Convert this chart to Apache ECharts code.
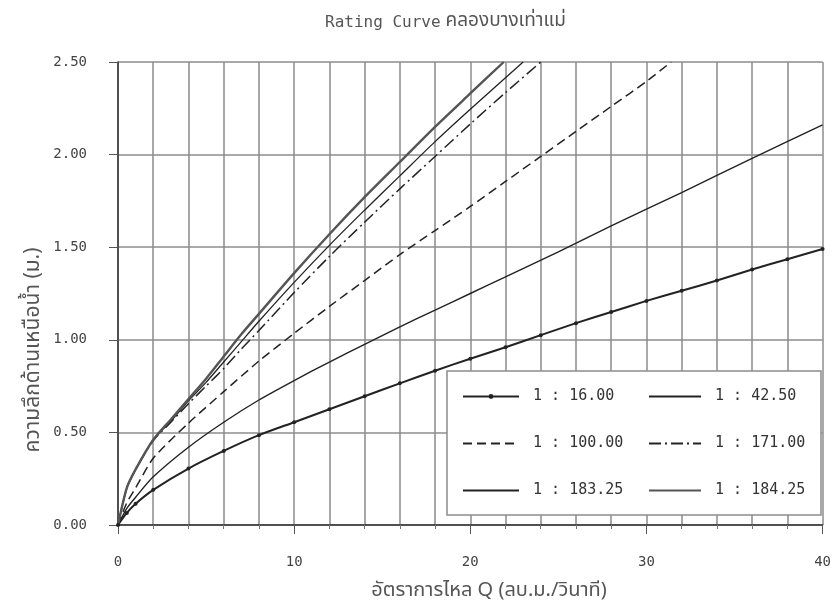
<!DOCTYPE html>
<html>
<head>
<meta charset="utf-8">
<script src="https://cdn.jsdelivr.net/npm/echarts@6/dist/echarts.min.js"></script>
<style>
  html, body { margin: 0; padding: 0; background: #fff; }
  #chart { width: 834px; height: 611px; }
</style>
</head>
<body>
<div id="chart"></div>
<script>
// Stage (m) against discharge Q (m³/s) for each bed-slope ratio
const q16  = [0, 0.5, 1, 2, 4, 6, 8, 10, 12, 14, 16, 18, 20, 22, 24, 26, 28, 30, 32, 34, 36, 38, 40];
const h16  = [0, 0.065, 0.115, 0.19, 0.305, 0.40, 0.485, 0.555, 0.625, 0.695, 0.765, 0.833, 0.898, 0.96, 1.025, 1.09, 1.15, 1.21, 1.265, 1.32, 1.38, 1.435, 1.49];

const q42  = [0, 0.5, 1, 2, 4, 6, 8, 10, 12, 14, 16, 18, 20, 22, 25, 28, 32, 36, 40];
const h42  = [0, 0.09, 0.15, 0.26, 0.42, 0.555, 0.675, 0.78, 0.88, 0.975, 1.07, 1.16, 1.25, 1.34, 1.475, 1.615, 1.795, 1.98, 2.16];

const q100 = [0, 0.5, 1, 2, 4, 6, 8, 10, 12, 14, 16, 18, 20, 22, 24, 26, 28, 30, 31.4];
const h100 = [0, 0.12, 0.20, 0.36, 0.55, 0.72, 0.885, 1.035, 1.18, 1.32, 1.46, 1.59, 1.72, 1.855, 1.99, 2.125, 2.26, 2.395, 2.5];

const q171 = [0, 0.5, 1, 2, 3, 4, 5, 6, 7, 8, 10, 12, 14, 16, 18, 20, 22, 24];
const h171 = [0, 0.2, 0.3, 0.455, 0.555, 0.655, 0.75, 0.845, 0.95, 1.05, 1.255, 1.45, 1.635, 1.815, 1.99, 2.165, 2.335, 2.5];

const q183 = [0, 0.5, 1, 2, 3, 4, 5, 6, 7, 8, 10, 12, 14, 16, 18, 20, 22, 23];
const h183 = [0, 0.2, 0.3, 0.46, 0.56, 0.67, 0.77, 0.88, 0.99, 1.10, 1.31, 1.51, 1.70, 1.885, 2.07, 2.245, 2.415, 2.5];

const q184 = [0, 0.5, 1, 2, 3, 4, 5, 6, 7, 8, 10, 12, 14, 16, 18, 20, 21.9];
const h184 = [0, 0.2, 0.3, 0.46, 0.57, 0.68, 0.79, 0.91, 1.03, 1.14, 1.36, 1.57, 1.77, 1.96, 2.15, 2.33, 2.5];

const seriesNames = ['1 : 16.00', '1 : 42.50', '1 : 100.00', '1 : 171.00', '1 : 183.25', '1 : 184.25'];
const yTicks = [0, 0.5, 1, 1.5, 2, 2.5];

const zip = (qs, hs) => qs.map((q, i) => [q, hs[i]]);

const MONO = "'DejaVu Sans Mono', 'Liberation Mono', monospace";
const THAI = "'Noto Sans Thai', 'Noto Sans', 'DejaVu Sans', sans-serif";
const INK = '#222';

const chart = echarts.init(document.getElementById('chart'), null, { renderer: 'canvas' });

function lineSeries(name, data, style, extra) {
  return Object.assign({
    name: name,
    type: 'line',
    data: data,
    smooth: 0.25,
    symbol: 'none',
    lineStyle: Object.assign({ color: INK, width: 1.5 }, style),
    itemStyle: { color: INK },
    emphasis: { disabled: true },
    animation: false,
    z: 3
  }, extra || {});
}

// legend entries: the line key only; the 1 : 16.00 key keeps its small dot
const noDot = { opacity: 0 };
function legendBlock(left, names, width, height) {
  return {
    orient: 'vertical',
    left: left,
    top: 389,
    padding: 0,
    itemWidth: width,
    itemHeight: height,
    itemGap: 32,
    z: 20,
    selectedMode: false,
    formatter: n => ' ' + n,
    textStyle: { fontFamily: MONO, fontSize: 15, color: '#333', height: 14, lineHeight: 14 },
    data: names.map(n => n === seriesNames[0] ? { name: n } : { name: n, itemStyle: noDot })
  };
}

chart.setOption({
  backgroundColor: '#fff',
  animation: false,
  title: {
    text: '{a|Rating Curve} {b|คลองบางเท่าแม่}',
    left: 320,
    top: 8,
    textStyle: {
      fontWeight: 'normal',
      rich: {
        a: { fontFamily: MONO, fontSize: 16, fontWeight: 'normal', color: '#555' },
        b: { fontFamily: THAI, fontSize: 19, fontWeight: 'normal', color: '#555' }
      }
    }
  },
  grid: { left: 118, right: 9, top: 62, bottom: 86 },
  xAxis: {
    type: 'value',
    min: 0, max: 40, interval: 10,
    axisLine: { lineStyle: { color: '#333', width: 1.5 } },
    axisTick: { show: true, length: 9, lineStyle: { color: '#555' } },
    minorTick: { show: true, splitNumber: 5, length: 4, lineStyle: { color: '#777' } },
    splitLine: { show: true, lineStyle: { color: '#8c8c8c', width: 1.5 } },
    minorSplitLine: { show: true, lineStyle: { color: '#8c8c8c', width: 1.5 } },
    axisLabel: { margin: 30, fontFamily: MONO, fontSize: 14, color: '#444' }
  },
  yAxis: {
    type: 'value',
    min: yTicks[0], max: yTicks[yTicks.length - 1], interval: 0.5,
    axisLine: { show: true, lineStyle: { color: '#333', width: 1.5 } },
    axisTick: { show: true, length: 9, lineStyle: { color: '#555' } },
    splitLine: { show: true, lineStyle: { color: '#8c8c8c', width: 1.5 } },
    axisLabel: { margin: 31, fontFamily: MONO, fontSize: 14, color: '#444', formatter: v => v.toFixed(2) }
  },
  legend: [
    legendBlock(462, [seriesNames[0], seriesNames[2], seriesNames[4]], 56, 6),
    legendBlock(648, [seriesNames[1], seriesNames[3], seriesNames[5]], 52, 6)
  ],
  graphic: [
    {
      type: 'rect',
      z: 10,
      shape: { x: 447, y: 371, width: 374, height: 144 },
      style: { fill: '#fff', stroke: '#8c8c8c', lineWidth: 1.5 }
    },
    {
      type: 'text',
      z: 10,
      x: 35, y: 350,
      rotation: Math.PI / 2,
      style: {
        text: 'ความลึกด้านเหนือน้ำ (ม.)',
        font: '21px ' + THAI,
        fill: '#555',
        align: 'center',
        verticalAlign: 'middle'
      }
    },
    {
      type: 'text',
      z: 10,
      x: 489, y: 592,
      style: {
        text: 'อัตราการไหล Q (ลบ.ม./วินาที)',
        font: '20px ' + THAI,
        fill: '#555',
        align: 'center',
        verticalAlign: 'middle'
      }
    }
  ],
  series: [
    lineSeries(seriesNames[0], zip(q16, h16), { width: 2 }, { symbol: 'circle', symbolSize: 4, showSymbol: true }),
    lineSeries(seriesNames[1], zip(q42, h42), { width: 1.4 }),
    lineSeries(seriesNames[2], zip(q100, h100), { width: 1.5, type: [9, 5] }),
    lineSeries(seriesNames[3], zip(q171, h171), { width: 1.5, type: [12, 4, 2, 4] }),
    lineSeries(seriesNames[4], zip(q183, h183), { width: 1.3 }),
    lineSeries(seriesNames[5], zip(q184, h184), { width: 2.4, color: '#555' })
  ]
});
</script>
</body>
</html>
